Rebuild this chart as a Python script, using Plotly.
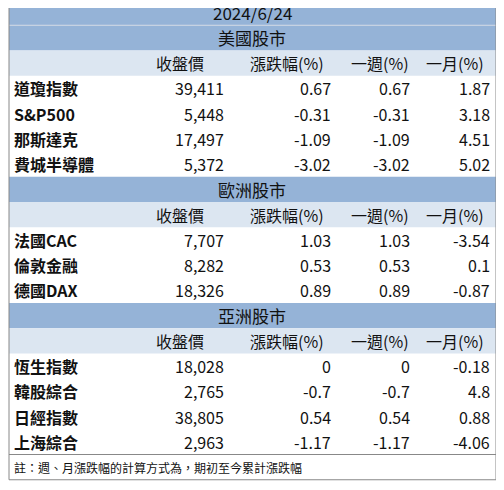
import plotly.graph_objects as go

date_title = "2024/6/24"
col_headers = ["收盤價", "漲跌幅(%)", "一週(%)", "一月(%)"]
note = "註：週、月漲跌幅的計算方式為，期初至今累計漲跌幅"

sections = ["美國股市", "歐洲股市", "亞洲股市"]
names = [
    ["道瓊指數", "S&P500", "那斯達克", "費城半導體"],
    ["法國CAC", "倫敦金融", "德國DAX"],
    ["恆生指數", "韓股綜合", "日經指數", "上海綜合"],
]
close = [["39,411", "5,448", "17,497", "5,372"],
         ["7,707", "8,282", "18,326"],
         ["18,028", "2,765", "38,805", "2,963"]]
change = [["0.67", "-0.31", "-1.09", "-3.02"],
          ["1.03", "0.53", "0.89"],
          ["0", "-0.7", "0.54", "-1.17"]]
week = [["0.67", "-0.31", "-1.09", "-3.02"],
        ["1.03", "0.53", "0.89"],
        ["0", "-0.7", "0.54", "-1.17"]]
month = [["1.87", "3.18", "4.51", "5.02"],
         ["-3.54", "0.1", "-0.87"],
         ["-0.18", "4.8", "0.88", "-4.06"]]

RH = 25.25
FONT = "Noto Sans CJK TC"
DARK = "#95B3D7"
LIGHT = "#DCE6F1"
header_x = [180, 287, 380, 455]
value_x = [226, 333, 412, 492]

def yc(i):
    return RH * i + RH / 2

shapes = []
ann = []

def band(i, color):
    shapes.append(dict(type="rect", xref="x", yref="y", x0=9, x1=496,
                       y0=RH * i, y1=RH * (i + 1), fillcolor=color, line_width=0, layer="below"))

def text(x, i, s, anchor, size=16):
    ann.append(dict(x=x, y=yc(i), xref="x", yref="y", text=s, showarrow=False,
                    xanchor=anchor, yanchor="middle", font=dict(family=FONT, size=size, color="#111")))

row = 0
band(row, DARK)
text(252, row, date_title, "center", 17)
row += 1
for s, sec in enumerate(sections):
    band(row, DARK)
    text(252, row, sec, "center", 17)
    row += 1
    band(row, LIGHT)
    for h, x in zip(col_headers, header_x):
        text(x, row, h, "center")
    row += 1
    for k, nm in enumerate(names[s]):
        text(12, row, "<b>" + nm + "</b>", "left")
        for col, x in zip([close, change, week, month], value_x):
            text(x, row, col[s][k], "right")
        row += 1
text(12, row, note, "left", 12)

# separators and outer border
shapes.append(dict(type="line", x0=9, x1=496, y0=RH, y1=RH, line=dict(color="#D0D8E4", width=1)))
shapes.append(dict(type="line", x0=9, x1=496, y0=RH * row, y1=RH * row, line=dict(color="#888", width=1)))
shapes.append(dict(type="rect", x0=9, x1=496, y0=0, y1=RH * (row + 1), line=dict(color="#888", width=1)))

fig = go.Figure(go.Scatter(x=[8, 512], y=[8, 498], mode="markers", marker=dict(opacity=0), hoverinfo="skip"))
fig.update_layout(
    width=504, height=490, margin=dict(l=0, r=0, t=0, b=0),
    paper_bgcolor="white", plot_bgcolor="white", showlegend=False,
    # page body has an 8px margin, so offset the coordinate frame to line up with the window
    xaxis=dict(range=[8, 512], visible=False, fixedrange=True),
    yaxis=dict(range=[498, 8], visible=False, fixedrange=True),
    shapes=shapes, annotations=ann,
)
fig.write_html("out.html", config={"displayModeBar": False})
